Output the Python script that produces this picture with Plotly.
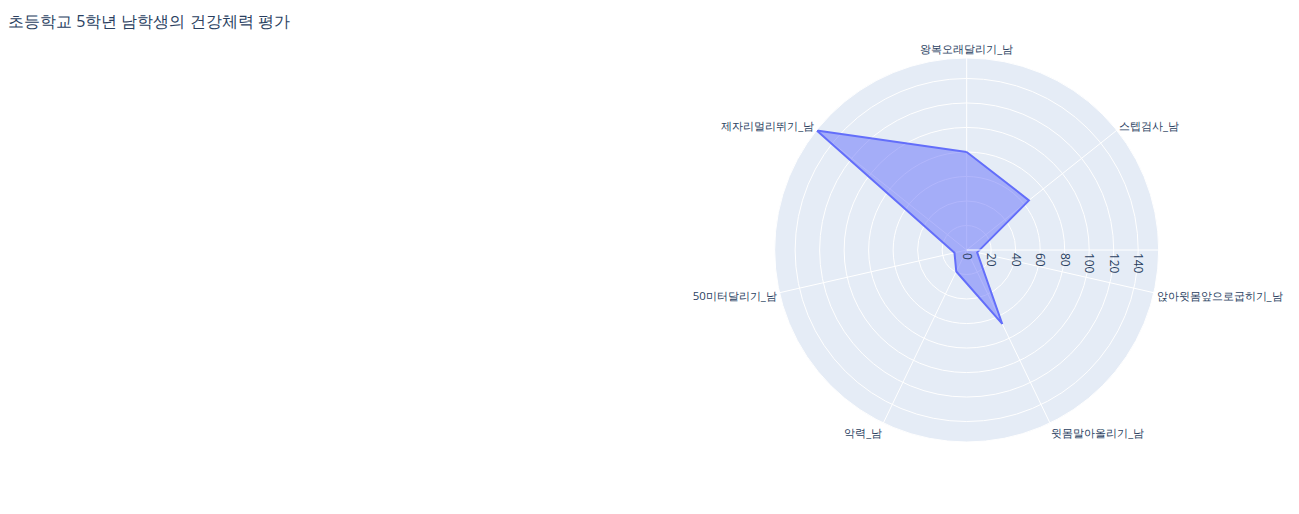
"""
Radar chart: health-fitness evaluation of 5th-grade boys.
"""

import plotly.graph_objects as go

# fitness items (angular categories) and average scores
categories = [
    "왕복오래달리기_남",
    "스텝검사_남",
    "앉아윗몸앞으로굽히기_남",
    "윗몸말아올리기_남",
    "악력_남",
    "50미터달리기_남",
    "제자리멀리뛰기_남",
]
scores = [80, 65, 8.8, 67, 19.5, 10.2, 156.5]

# close the polygon so the last edge is drawn too
theta = categories + categories[:1]
r = scores + scores[:1]

W, H = 1283, 498  # page body keeps an 8px margin

fig = go.Figure()
fig.add_trace(
    go.Scatterpolar(
        r=r,
        theta=theta,
        mode="lines",
        fill="toself",
        line={"color": "#636efa", "width": 2},
        showlegend=False,
    )
)

fig.update_layout(
    template="plotly",
    width=W,
    height=H,
    title={
        "text": "초등학교 5학년 남학생의 건강체력 평가",
        "font": {"size": 16},
        "x": 0,
        "xanchor": "left",
        "y": 1 - 13 / H,
        "yanchor": "middle",
    },
    margin={"l": 0, "r": 0, "t": 50, "b": 64},
    polar={
        "domain": {"x": [0.4944, 1.0], "y": [0, 1]},
        "angularaxis": {
            "direction": "clockwise",
            "rotation": 90,
            "tickfont": {"size": 11.4},
        },
        "radialaxis": {"range": [0, 156.7], "dtick": 20, "tickangle": 90},
    },
)

fig.write_html("out.html")
